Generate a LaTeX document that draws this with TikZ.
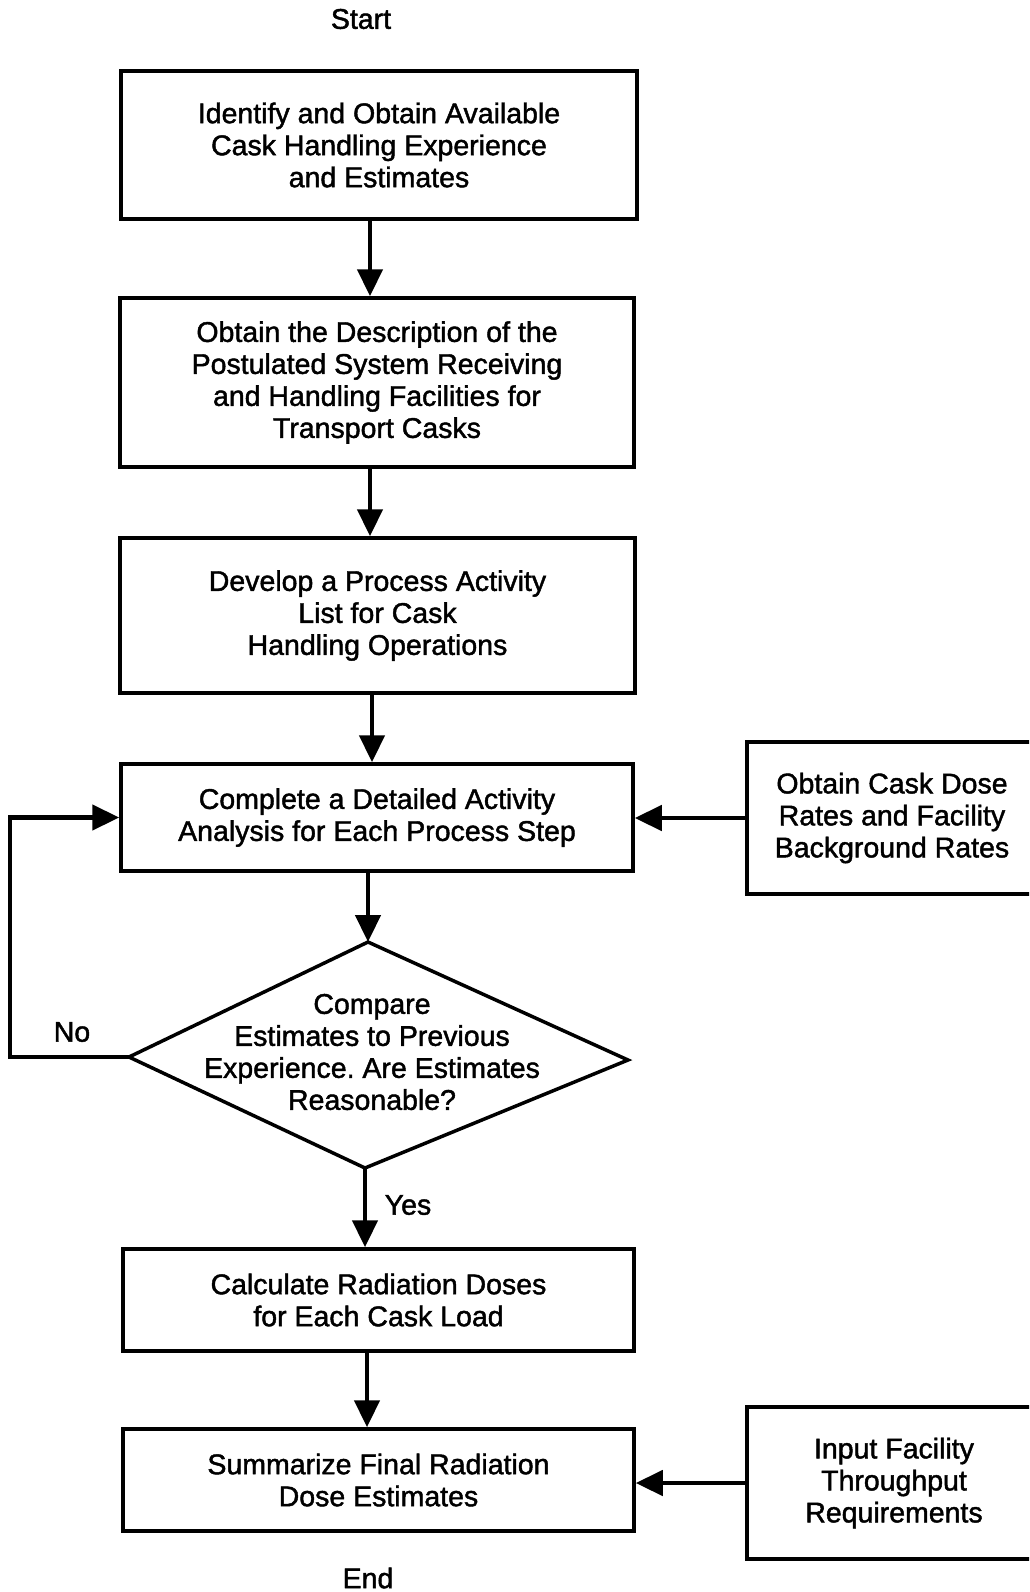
\documentclass[tikz,border=0pt]{standalone}
\usepackage{fontspec}
\setmainfont{Liberation Sans}[RawFeature={embolden=1.5}]
\usetikzlibrary{arrows.meta}
\frenchspacing
\begin{document}
\begin{tikzpicture}[x=1pt,y=-1pt,
  box/.style={draw,line width=3.5pt,inner sep=0pt,align=center,font=\fontsize{28.5}{32}\selectfont},
  lbl/.style={inner sep=0pt,align=center,font=\fontsize{28.5}{32}\selectfont},
  arr/.style={line width=4.5pt,-{Triangle[length=27pt,width=25pt]}},
  dshape/.style={draw,line width=3.5pt,line join=miter}]
\useasboundingbox (0,0) rectangle (1029,1592);
\clip (0,0) rectangle (1029,1592);
\node[lbl] (start) at (361,19) {Start};
\node[box,minimum width=516pt,minimum height=148pt] (b1) at (379,145)
  {Identify and Obtain Available\\Cask Handling Experience\\and Estimates};
\node[box,minimum width=514pt,minimum height=169pt] (b2) at (377,382.5)
  {Obtain the Description of the\\Postulated System Receiving\\and Handling Facilities for\\Transport Casks};
\node[box,minimum width=515pt,minimum height=155pt] (b3) at (377.5,615.5)
  {Develop a Process Activity\\List for Cask\\Handling Operations};
\node[box,minimum width=512pt,minimum height=107pt] (b4) at (377,817.5)
  {Complete a Detailed Activity\\Analysis for Each Process Step};
\node[box,minimum width=290pt,minimum height=152pt] (bA) at (892,818)
  {Obtain Cask Dose\\Rates and Facility\\Background Rates};
\coordinate (dT) at (368,942);
\coordinate (dR) at (628,1060);
\coordinate (dB) at (365,1168);
\coordinate (dL) at (129,1057);
\draw[dshape] (dT) -- (dR) -- (dB) -- (dL) -- cycle;
\node[lbl] (dtext) at (372,1052)
  {Compare\\Estimates to Previous\\Experience.\ Are Estimates\\Reasonable?};
\node[box,minimum width=511pt,minimum height=102pt] (b5) at (378.5,1300)
  {Calculate Radiation Doses\\for Each Cask Load};
\node[box,minimum width=511pt,minimum height=102pt] (b6) at (378.5,1480)
  {Summarize Final Radiation\\Dose Estimates};
\node[box,minimum width=294pt,minimum height=152pt] (bB) at (894,1483)
  {Input Facility\\Throughput\\Requirements};
\node[lbl] (end) at (368,1578) {End};
\node[lbl] (no) at (72,1032) {No};
\node[lbl] (yes) at (408,1205) {Yes};
\coordinate (lp) at (10,1057);
\coordinate (x1) at (370,0);
\coordinate (x2) at (370,0);
\coordinate (x3) at (372,0);
\coordinate (x5) at (367,0);
% connectors
\draw[arr] (b1.south -| x1) -- (b2.north -| x1);
\draw[arr] (b2.south -| x2) -- (b3.north -| x2);
\draw[arr] (b3.south -| x3) -- (b4.north -| x3);
\draw[arr] (b4.south -| dT) -- (dT);
\draw[arr] (dB) -- (dB |- b5.north);
\draw[arr] (b5.south -| x5) -- (b6.north -| x5);
\draw[arr] (bA.west) -- (bA.west -| b4.east);
\draw[arr] (bB.west) -- (bB.west -| b6.east);
\draw[arr,line join=miter] (dL) -- (lp) |- (b4.west);
\end{tikzpicture}
\end{document}
